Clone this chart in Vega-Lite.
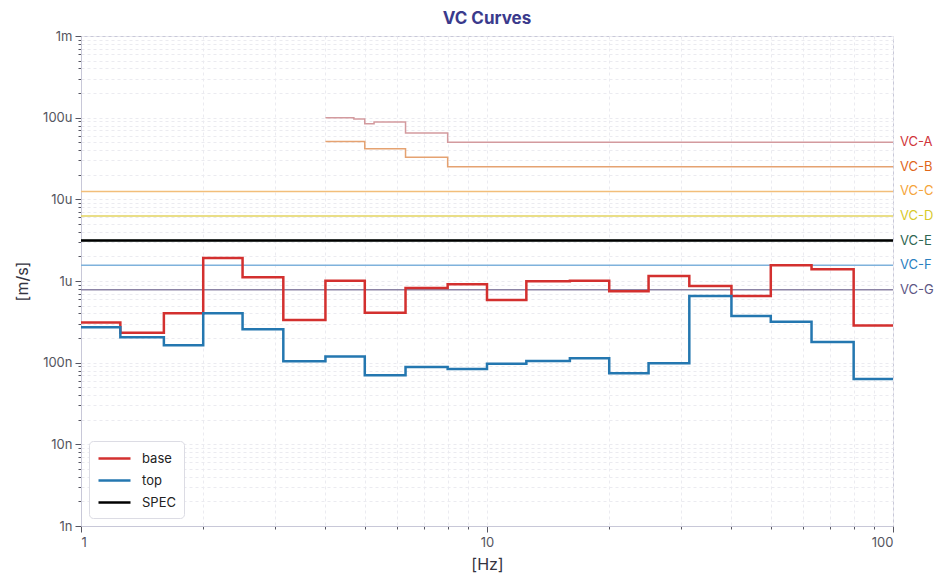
{
  "$schema": "https://vega.github.io/schema/vega-lite/v6.json",
  "width": 812,
  "height": 490,
  "autosize": {"type": "none"},
  "padding": {"left": 81, "top": 36, "right": 56, "bottom": 61},
  "background": "white",
  "title": {
    "text": "VC Curves",
    "fontSize": 17,
    "fontWeight": "bold",
    "color": "#3a3a8c",
    "font": "Inter",
    "offset": 2
  },
  "config": {
    "font": "Inter",
    "view": {"stroke": "#c8c8d8", "strokeWidth": 1},
    "axis": {
      "labelFont": "Inter",
      "titleFont": "Inter",
      "labelColor": "#555560",
      "titleColor": "#333340",
      "labelFontSize": 13,
      "titleFontSize": 16,
      "titleFontWeight": "normal",
      "domainColor": "#c8c8d8",
      "tickColor": "#555560",
      "gridColor": "#ebebf0",
      "gridDash": [3, 3],
      "gridWidth": 1
    },
    "legend": {
      "labelFont": "Inter",
      "labelFontSize": 13,
      "labelColor": "#222222"
    }
  },
  "datasets": {
    "vc": [
      {"curve": "VC-A", "f": 4, "v": 1.0e-4},
      {"curve": "VC-A", "f": 4.7, "v": 9.6e-5},
      {"curve": "VC-A", "f": 5, "v": 8.4e-5},
      {"curve": "VC-A", "f": 5.27, "v": 8.85e-5},
      {"curve": "VC-A", "f": 6.3, "v": 6.5e-5},
      {"curve": "VC-A", "f": 8, "v": 5.0e-5},
      {"curve": "VC-A", "f": 100, "v": 5.0e-5},
      {"curve": "VC-B", "f": 4, "v": 5.1e-5},
      {"curve": "VC-B", "f": 5, "v": 4.15e-5},
      {"curve": "VC-B", "f": 6.3, "v": 3.27e-5},
      {"curve": "VC-B", "f": 8, "v": 2.5e-5},
      {"curve": "VC-B", "f": 100, "v": 2.5e-5},
      {"curve": "VC-C", "f": 1, "v": 1.25e-5},
      {"curve": "VC-C", "f": 100, "v": 1.25e-5},
      {"curve": "VC-D", "f": 1, "v": 6.25e-6},
      {"curve": "VC-D", "f": 100, "v": 6.25e-6},
      {"curve": "VC-E", "f": 1, "v": 3.125e-6},
      {"curve": "VC-E", "f": 100, "v": 3.125e-6},
      {"curve": "VC-F", "f": 1, "v": 1.5625e-6},
      {"curve": "VC-F", "f": 100, "v": 1.5625e-6},
      {"curve": "VC-G", "f": 1, "v": 7.8e-7},
      {"curve": "VC-G", "f": 100, "v": 7.8e-7}
    ],
    "meas": [
      {"series": "base", "f": 1, "v": 3.1e-7},
      {"series": "base", "f": 1.25, "v": 2.33e-7},
      {"series": "base", "f": 1.6, "v": 4.02e-7},
      {"series": "base", "f": 2, "v": 1.91e-6},
      {"series": "base", "f": 2.5, "v": 1.11e-6},
      {"series": "base", "f": 3.15, "v": 3.33e-7},
      {"series": "base", "f": 4, "v": 1.01e-6},
      {"series": "base", "f": 5, "v": 4.09e-7},
      {"series": "base", "f": 6.3, "v": 8.2e-7},
      {"series": "base", "f": 8, "v": 9.1e-7},
      {"series": "base", "f": 10, "v": 5.85e-7},
      {"series": "base", "f": 12.5, "v": 9.9e-7},
      {"series": "base", "f": 16, "v": 1.01e-6},
      {"series": "base", "f": 20, "v": 7.48e-7},
      {"series": "base", "f": 25, "v": 1.15e-6},
      {"series": "base", "f": 31.5, "v": 8.69e-7},
      {"series": "base", "f": 40, "v": 6.55e-7},
      {"series": "base", "f": 50, "v": 1.56e-6},
      {"series": "base", "f": 63, "v": 1.39e-6},
      {"series": "base", "f": 80, "v": 2.86e-7},
      {"series": "base", "f": 100, "v": 2.86e-7},
      {"series": "top", "f": 1, "v": 2.71e-7},
      {"series": "top", "f": 1.25, "v": 2.05e-7},
      {"series": "top", "f": 1.6, "v": 1.63e-7},
      {"series": "top", "f": 2, "v": 4.02e-7},
      {"series": "top", "f": 2.5, "v": 2.56e-7},
      {"series": "top", "f": 3.15, "v": 1.04e-7},
      {"series": "top", "f": 4, "v": 1.19e-7},
      {"series": "top", "f": 5, "v": 7.0e-8},
      {"series": "top", "f": 6.3, "v": 8.85e-8},
      {"series": "top", "f": 8, "v": 8.36e-8},
      {"series": "top", "f": 10, "v": 9.72e-8},
      {"series": "top", "f": 12.5, "v": 1.05e-7},
      {"series": "top", "f": 16, "v": 1.13e-7},
      {"series": "top", "f": 20, "v": 7.41e-8},
      {"series": "top", "f": 25, "v": 9.82e-8},
      {"series": "top", "f": 31.5, "v": 6.55e-7},
      {"series": "top", "f": 40, "v": 3.72e-7},
      {"series": "top", "f": 50, "v": 3.18e-7},
      {"series": "top", "f": 63, "v": 1.79e-7},
      {"series": "top", "f": 80, "v": 6.3e-8},
      {"series": "top", "f": 100, "v": 6.3e-8},
      {"series": "SPEC", "f": 1, "v": 3.125e-6},
      {"series": "SPEC", "f": 100, "v": 3.125e-6}
    ]
  },
  "encoding": {
    "x": {
      "field": "f",
      "type": "quantitative",
      "title": "[Hz]",
      "scale": {"type": "log", "domain": [1, 100], "nice": false},
      "axis": {
        "values": [1, 2, 3, 4, 5, 6, 7, 8, 9, 10, 20, 30, 40, 50, 60, 70, 80, 90, 100],
        "labelExpr": "indexof([1, 10, 100], datum.value) >= 0 ? datum.value : ''",
        "tickSize": {"condition": {"test": "indexof([1, 10, 100], datum.value) >= 0", "value": 6}, "value": 3},
        "grid": true,
        "labelPadding": 4,
        "titlePadding": 7
      }
    },
    "y": {
      "field": "v",
      "type": "quantitative",
      "title": "[m/s]",
      "scale": {"type": "log", "domain": [1e-9, 1e-3], "nice": false},
      "axis": {
        "values": [1e-9, 2e-9, 3e-9, 4e-9, 5e-9, 6e-9, 7e-9, 8e-9, 9e-9,
                   1e-8, 2e-8, 3e-8, 4e-8, 5e-8, 6e-8, 7e-8, 8e-8, 9e-8,
                   1e-7, 2e-7, 3e-7, 4e-7, 5e-7, 6e-7, 7e-7, 8e-7, 9e-7,
                   1e-6, 2e-6, 3e-6, 4e-6, 5e-6, 6e-6, 7e-6, 8e-6, 9e-6,
                   1e-5, 2e-5, 3e-5, 4e-5, 5e-5, 6e-5, 7e-5, 8e-5, 9e-5,
                   1e-4, 2e-4, 3e-4, 4e-4, 5e-4, 6e-4, 7e-4, 8e-4, 9e-4, 1e-3],
        "labelExpr": "indexof([1e-9, 1e-8, 1e-7, 1e-6, 1e-5, 1e-4, 1e-3], datum.value) >= 0 ? replace(format(datum.value, '~s'), 'µ', 'u') : ''",
        "tickSize": {"condition": {"test": "indexof([1e-9, 1e-8, 1e-7, 1e-6, 1e-5, 1e-4, 1e-3], datum.value) >= 0", "value": 6}, "value": 3},
        "grid": true,
        "labelPadding": 3,
        "titlePadding": 12
      }
    }
  },
  "layer": [
    {
      "data": {"name": "vc"},
      "mark": {"type": "line", "interpolate": "step-after", "strokeWidth": 1.5},
      "encoding": {
        "color": {
          "field": "curve",
          "type": "nominal",
          "legend": null,
          "scale": {
            "domain": ["VC-A", "VC-B", "VC-C", "VC-D", "VC-E", "VC-F", "VC-G"],
            "range": ["#d39a9e", "#e5a271", "#f2be7a", "#e2d35f", "#2e6b52", "#7fb2dc", "#8c84a6"]
          }
        }
      }
    },
    {
      "data": {"name": "meas"},
      "mark": {"type": "line", "interpolate": "step-after", "strokeWidth": 2.5},
      "encoding": {
        "color": {
          "field": "series",
          "type": "nominal",
          "sort": null,
          "scale": {
            "domain": ["base", "top", "SPEC"],
            "range": ["#d3302f", "#2477b0", "#000000"]
          },
          "legend": {
            "title": null,
            "orient": "bottom-left",
            "offset": 8,
            "fillColor": "white",
            "strokeColor": "#dcdce4",
            "cornerRadius": 4,
            "padding": 8,
            "symbolType": "M-2,0H2",
            "symbolStrokeWidth": 2.5,
            "symbolSize": 256,
            "symbolOffset": 8,
            "rowPadding": 5,
            "labelOffset": 18
          }
        }
      }
    },
    {
      "data": {"name": "vc"},
      "transform": [{"filter": "datum.f == 100"}],
      "mark": {"type": "text", "align": "left", "baseline": "middle", "dx": 7, "fontSize": 13, "font": "Inter"},
      "encoding": {
        "text": {"field": "curve"},
        "color": {
          "field": "curve",
          "type": "nominal",
          "legend": null,
          "scale": {
            "domain": ["VC-A", "VC-B", "VC-C", "VC-D", "VC-E", "VC-F", "VC-G"],
            "range": ["#d0343a", "#e0661a", "#f5a43a", "#d8c92a", "#2e6652", "#2a80c0", "#5c5684"]
          }
        }
      }
    }
  ],
  "resolve": {"scale": {"color": "independent"}, "legend": {"color": "independent"}}
}
